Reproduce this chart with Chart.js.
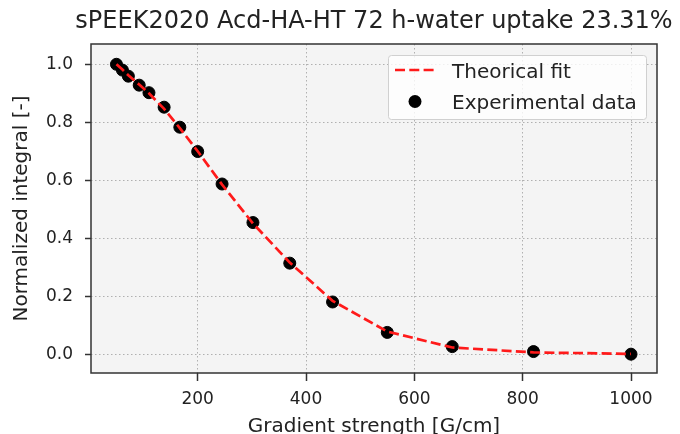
<!DOCTYPE html>
<html>
<head>
<meta charset="utf-8">
<script src="https://cdn.jsdelivr.net/npm/chart.js@4.4.0/dist/chart.umd.min.js"></script>
<style>
    html, body { margin: 0; padding: 0; background: #fff; }
    #wrap { width: 680px; height: 434px; }
</style>
</head>
<body>
<div id="wrap"><canvas id="chart" width="680" height="434"></canvas></div>
<script>
/* valores */
const gradient = [50, 61, 72, 92, 110, 138, 167, 200, 245, 302, 370, 449, 550, 670, 820, 1000];
const expIntegral = [1.0, 0.98, 0.959, 0.928, 0.902, 0.852, 0.783, 0.699, 0.587, 0.454, 0.314, 0.18, 0.075, 0.026, 0.009, 0.0];
const fitIntegral = [1.0, 0.982, 0.962, 0.93, 0.9, 0.846, 0.78, 0.7, 0.585, 0.451, 0.316, 0.184, 0.078, 0.023, 0.006, 0.001];
const xTicks = [200, 400, 600, 800, 1000];
const yTicks = [0.0, 0.2, 0.4, 0.6, 0.8, 1.0];
const titleText = 'sPEEK2020 Acd-HA-HT 72 h-water uptake 23.31%';
const xLabel = 'Gradient strength [G/cm]';
const yLabel = 'Normalized integral [-]';
const fitLabel = 'Theorical fit';
const expLabel = 'Experimental data';

Chart.defaults.font.family = "'DejaVu Sans'";
Chart.defaults.color = '#222';

const FONT = "'DejaVu Sans'";

// fundo cinza da area do grafico
const plotBackground = {
    id: 'plotBackground',
    beforeDraw(chart) {
        const { ctx, chartArea: a } = chart;
        ctx.save();
        ctx.fillStyle = '#f4f4f4';
        ctx.fillRect(a.left, a.top, a.right - a.left, a.bottom - a.top);
        ctx.restore();
    }
};

// moldura, titulo e legenda (estilo matplotlib)
const extras = {
    id: 'extras',
    afterDraw(chart) {
        const { ctx, chartArea: a } = chart;
        ctx.save();

        ctx.strokeStyle = '#333';
        ctx.lineWidth = 1.5;
        ctx.strokeRect(a.left, a.top, a.right - a.left, a.bottom - a.top);

        ctx.fillStyle = '#222';
        ctx.font = '24px ' + FONT;
        ctx.textAlign = 'center';
        ctx.textBaseline = 'alphabetic';
        ctx.fillText(titleText, (a.left + a.right) / 2, 28);

        // legenda
        const bx = 388, by = 55, bw = 258, bh = 64;
        ctx.fillStyle = 'rgba(255,255,255,0.8)';
        ctx.strokeStyle = '#d0d0d0';
        ctx.lineWidth = 1;
        ctx.beginPath();
        ctx.roundRect(bx + 0.5, by + 0.5, bw, bh, 3);
        ctx.fill();
        ctx.stroke();

        const fitDs = chart.data.datasets[0];
        const expDs = chart.data.datasets[1];

        ctx.strokeStyle = fitDs.borderColor;
        ctx.lineWidth = fitDs.borderWidth;
        ctx.setLineDash(fitDs.borderDash);
        ctx.beginPath();
        ctx.moveTo(395, 70);
        ctx.lineTo(435, 70);
        ctx.stroke();
        ctx.setLineDash([]);

        ctx.fillStyle = expDs.backgroundColor;
        ctx.beginPath();
        ctx.arc(415, 101.5, 6.5, 0, Math.PI * 2);
        ctx.fill();

        ctx.fillStyle = '#222';
        ctx.font = '20px ' + FONT;
        ctx.textAlign = 'left';
        ctx.fillText(fitLabel, 452, 77.5);
        ctx.fillText(expLabel, 452, 108.5);

        ctx.restore();
    }
};

const ctx = document.getElementById('chart').getContext('2d');

new Chart(ctx, {
    type: 'scatter',
    data: {
        datasets: [{
            label: fitLabel,
            data: gradient.map((g, i) => ({ x: g, y: fitIntegral[i] })),
            showLine: true,
            borderColor: '#ff1a1a',
            borderWidth: 2.7,
            borderDash: [10, 4.3],
            pointRadius: 0,
            tension: 0,
            order: 0
        }, {
            label: expLabel,
            data: gradient.map((g, i) => ({ x: g, y: expIntegral[i] })),
            backgroundColor: '#000',
            borderColor: '#000',
            pointRadius: 6,
            pointBorderWidth: 1,
            order: 1
        }]
    },
    options: {
        responsive: false,
        devicePixelRatio: 1,
        animation: false,
        layout: { padding: { top: 44, right: 23, left: 0, bottom: 0 } },
        plugins: {
            legend: { display: false },
            tooltip: { enabled: false }
        },
        scales: {
            x: {
                type: 'linear',
                min: 3,
                max: 1048,
                afterBuildTicks: (scale) => { scale.ticks = xTicks.map(v => ({ value: v })); },
                afterFit: (scale) => { scale.height = 61; },
                ticks: {
                    font: { size: 17 },
                    color: '#222',
                    padding: 8,
                    maxRotation: 0,
                    callback: (v) => String(v)
                },
                grid: {
                    color: '#b0b0b0',
                    lineWidth: 1,
                    tickColor: '#333',
                    tickWidth: 1.5,
                    tickLength: 8,
                    tickBorderDash: []
                },
                border: { display: false, dash: [1.5, 2.5] },
                title: {
                    display: true,
                    text: xLabel,
                    font: { size: 20 },
                    color: '#222',
                    padding: { top: 0, bottom: -5 }
                }
            },
            y: {
                type: 'linear',
                min: -0.065,
                max: 1.07,
                afterBuildTicks: (scale) => { scale.ticks = yTicks.map(v => ({ value: v })); },
                afterFit: (scale) => { scale.width = 91; },
                ticks: {
                    font: { size: 17 },
                    color: '#222',
                    padding: 12,
                    callback: (v) => Number(v).toFixed(1)
                },
                grid: {
                    color: '#b0b0b0',
                    lineWidth: 1,
                    tickColor: '#333',
                    tickWidth: 1.5,
                    tickLength: 6,
                    tickBorderDash: []
                },
                border: { display: false, dash: [1.5, 2.5] },
                title: {
                    display: true,
                    text: yLabel,
                    font: { size: 20 },
                    color: '#222',
                    padding: { top: 10, bottom: 0 }
                }
            }
        }
    },
    plugins: [plotBackground, extras]
});
</script>
</body>
</html>
